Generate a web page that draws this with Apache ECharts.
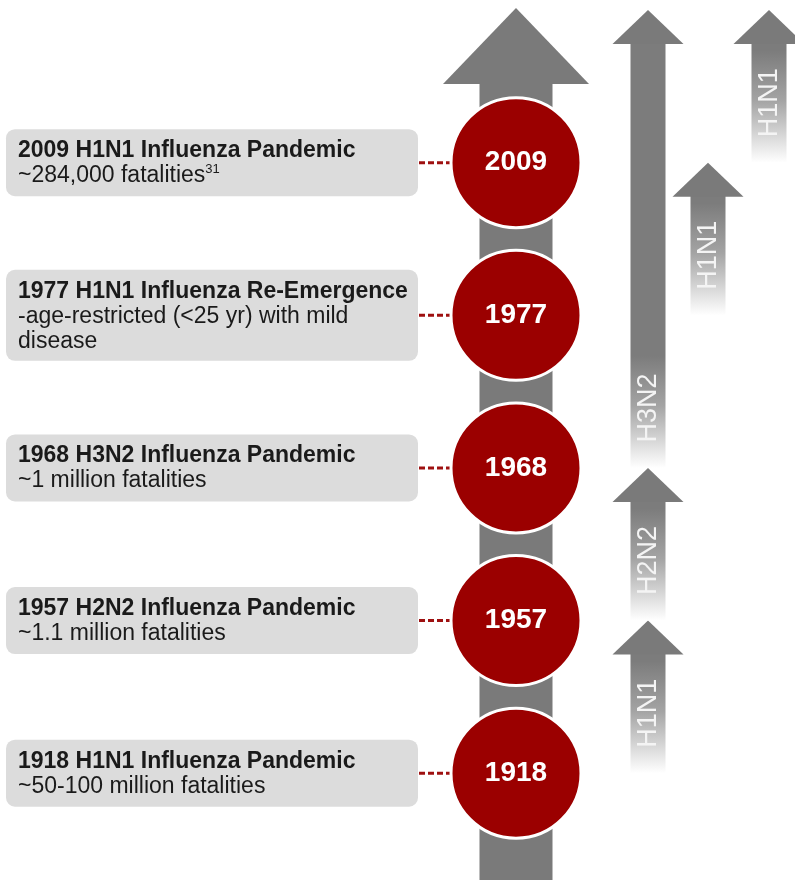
<!DOCTYPE html>
<html>
<head>
<meta charset="utf-8">
<script src="https://cdn.jsdelivr.net/npm/echarts@6/dist/echarts.min.js"></script>
<style>
  html, body { margin: 0; padding: 0; background: #fff; }
  #main { width: 795px; height: 880px; }
</style>
</head>
<body>
<div id="main"></div>
<script>
// events, bottom (oldest) to top
var years = ['1918', '1957', '1968', '1977', '2009'];
var eventTitles = [
  '1918 H1N1 Influenza Pandemic',
  '1957 H2N2 Influenza Pandemic',
  '1968 H3N2 Influenza Pandemic',
  '1977 H1N1 Influenza Re-Emergence',
  '2009 H1N1 Influenza Pandemic'
];
var eventDetails = [
  '~50-100 million fatalities',
  '~1.1 million fatalities',
  '~1 million fatalities',
  '-age-restricted (<25 yr) with mild\ndisease',
  '~284,000 fatalities'
];
var eventRefs = ['', '', '', '', '31'];

// circulating subtypes
var lineageNames = ['H1N1', 'H2N2', 'H3N2', 'H1N1', 'H1N1'];
var lineageFrom = ['1918', '1957', '1968', '1977', '2009'];
var lineageTo = ['1957', '1968', 'present', '2009', 'present'];
var lineageLane = [0, 0, 0, 1, 2];

// layout
var TIMELINE_X = 516;
var LANE_X = [648, 708, 769];
var RED = '#9b0000';
var GREY = '#7a7a7a';

function yearIndex(y) {
  return y === 'present' ? years.length : years.indexOf(y);
}

var myChart = echarts.init(document.getElementById('main'));

var option = {
  animation: false,
  grid: { left: 0, right: 0, top: 10, bottom: 0 },
  xAxis: { type: 'value', min: 0, max: 795, show: false },
  yAxis: { type: 'value', min: -0.7, max: 5, show: false },
  series: [
    {
      // main timeline arrow
      type: 'custom',
      silent: true,
      data: [[TIMELINE_X, years.length]],
      renderItem: function (params, api) {
        var top = api.coord([api.value(0), api.value(1)]);
        var bottom = api.coord([api.value(0), -0.7]);
        var x = top[0];
        var headH = 74;
        return {
          type: 'group',
          children: [
            { type: 'rect', shape: { x: x - 36.5, y: top[1] + headH - 1, width: 73, height: bottom[1] - top[1] - headH + 1 }, style: { fill: GREY } },
            { type: 'polygon', shape: { points: [[x - 73, top[1] + headH], [x, top[1] - 2], [x + 73, top[1] + headH]] }, style: { fill: GREY } }
          ]
        };
      }
    },
    {
      // event boxes with dashed connectors
      type: 'custom',
      silent: true,
      data: years.map(function (y, i) { return [TIMELINE_X, i]; }),
      renderItem: function (params, api) {
        var i = params.dataIndex;
        var c = api.coord([api.value(0), api.value(1)]);
        var lines = 1 + eventDetails[i].split('\n').length;
        var h = 19 + lines * 24;
        var top = c[1] - h / 2;
        var detail = eventDetails[i].split('\n').map(function (s) { return '{d|' + s + '}'; }).join('\n');
        if (eventRefs[i]) detail += '{s|' + eventRefs[i] + '}';
        return {
          type: 'group',
          children: [
            { type: 'rect', shape: { x: 6, y: top, width: 412, height: h, r: 9 }, style: { fill: '#dcdcdc' } },
            { type: 'line', shape: { x1: 419, y1: c[1], x2: 452, y2: c[1] }, style: { stroke: '#9e1010', lineWidth: 3, lineDash: [6, 3] } },
            {
              type: 'text',
              x: 18,
              y: top + 9,
              style: {
                text: '{t|' + eventTitles[i] + '}\n' + detail,
                verticalAlign: 'top',
                align: 'left',
                rich: {
                  t: { fontFamily: 'Liberation Sans', fontWeight: 'bold', fontSize: 23, lineHeight: 25, fill: '#1a1a1a' },
                  d: { fontFamily: 'Liberation Sans', fontSize: 23, lineHeight: 25, fill: '#1a1a1a' },
                  s: { fontFamily: 'Liberation Sans', fontSize: 13, lineHeight: 25, fill: '#1a1a1a', verticalAlign: 'top', padding: [0, 0, 10, 0] }
                }
              }
            }
          ]
        };
      }
    },
    {
      // year circles
      type: 'scatter',
      silent: true,
      symbol: 'circle',
      symbolSize: 130,
      data: years.map(function (y, i) { return [TIMELINE_X, i]; }),
      itemStyle: { color: RED, borderColor: '#ffffff', borderWidth: 3, opacity: 1 },
      label: {
        show: true,
        position: 'inside',
        formatter: function (p) { return years[p.dataIndex]; },
        color: '#ffffff',
        fontFamily: 'Liberation Sans',
        fontWeight: 'bold',
        fontSize: 28
      }
    },
    {
      // subtype lineage arrows
      type: 'custom',
      silent: true,
      data: lineageNames.map(function (n, k) {
        return [LANE_X[lineageLane[k]], yearIndex(lineageFrom[k]), yearIndex(lineageTo[k])];
      }),
      renderItem: function (params, api) {
        var k = params.dataIndex;
        var b = api.coord([api.value(0), api.value(1)]);
        var t = api.coord([api.value(0), api.value(2)]);
        var x = b[0];
        var headH = 34;
        var fade = {
          type: 'linear', x: 0, y: b[1] - 112, x2: 0, y2: b[1], global: true,
          colorStops: [
            { offset: 0, color: '#7c7c7c' },
            { offset: 0.45, color: '#a4a4a4' },
            { offset: 1, color: '#ffffff' }
          ]
        };
        return {
          type: 'group',
          children: [
            { type: 'rect', shape: { x: x - 17.5, y: t[1] + headH - 1, width: 35, height: b[1] - t[1] - headH + 1 }, style: { fill: fade } },
            { type: 'polygon', shape: { points: [[x - 35.5, t[1] + headH], [x, t[1]], [x + 35.5, t[1] + headH]] }, style: { fill: GREY } },
            {
              type: 'text',
              x: x + 1,
              y: b[1] - 60,
              rotation: Math.PI / 2,
              style: {
                text: lineageNames[k],
                align: 'center',
                verticalAlign: 'middle',
                fontFamily: 'Liberation Sans',
                fontSize: 27,
                fill: '#f4f4f4'
              }
            }
          ]
        };
      }
    }
  ]
};

myChart.setOption(option);
</script>
</body>
</html>
